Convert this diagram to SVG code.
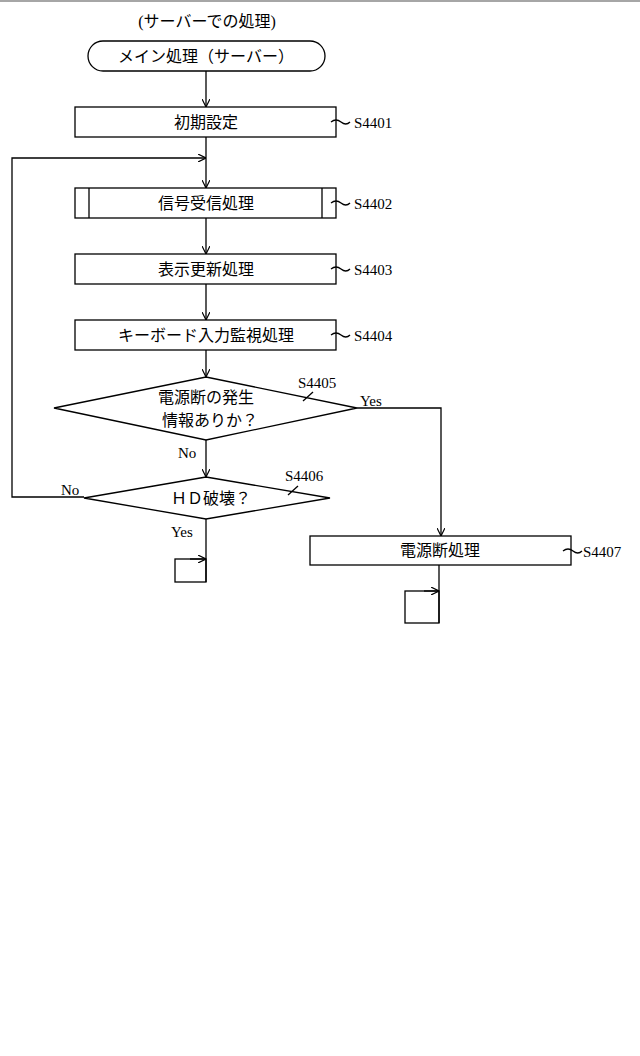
<svg xmlns="http://www.w3.org/2000/svg" width="640" height="1056" viewBox="0 0 640 1056">
<defs>
<marker id="ah" viewBox="0 0 10 10" refX="10" refY="5" markerWidth="8" markerHeight="8" orient="auto" markerUnits="userSpaceOnUse"><path d="M0,0 L10,5 L0,10" fill="none" stroke="#000" stroke-width="1.5"/></marker>
<style>
.s{fill:none;stroke:#000;stroke-width:1.3}
.b{fill:#fff;stroke:#000;stroke-width:1.3}
text{font-family:"Liberation Serif","Noto Sans CJK JP",serif;font-size:16px;fill:#000}
.m{text-anchor:middle}
.l{font-size:15px}
</style>
</defs>
<line x1="0" y1="1" x2="640" y2="1" stroke="#888" stroke-width="1.5"/>
<text class="m" x="207" y="27">(サーバーでの処理)</text>
<g id="connectors">
<line class="s" x1="206" y1="71" x2="206" y2="107" marker-end="url(#ah)"/>
<line class="s" x1="206" y1="137" x2="206" y2="188" marker-end="url(#ah)"/>
<polyline class="s" points="84,497 12,497 12,158 206,158" marker-end="url(#ah)"/>
<line class="s" x1="206" y1="218" x2="206" y2="254" marker-end="url(#ah)"/>
<line class="s" x1="206" y1="284" x2="206" y2="320" marker-end="url(#ah)"/>
<line class="s" x1="206" y1="350" x2="206" y2="377" marker-end="url(#ah)"/>
<line class="s" x1="206" y1="440" x2="206" y2="477" marker-end="url(#ah)"/>
<polyline class="s" points="357,408 441,408 441,536" marker-end="url(#ah)"/>
<line class="s" x1="206" y1="519" x2="206" y2="582"/>
<line class="s" x1="190" y1="559" x2="206" y2="559" marker-end="url(#ah)"/>
<line class="s" x1="439" y1="565" x2="439" y2="623"/>
<line class="s" x1="424" y1="591" x2="439" y2="591" marker-end="url(#ah)"/>
</g>
<g id="start"><rect class="b" x="88" y="41" width="237" height="30" rx="15"/><text class="m" x="206" y="62">メイン処理（サーバー）</text></g>
<g id="S4401"><rect class="b" x="75" y="107" width="261" height="30"/><text class="m" x="206" y="128">初期設定</text>
<path class="s" d="M331,122 q5,-4 10,0 t9,0"/><text class="l" x="354" y="128">S4401</text></g>
<g id="S4402"><rect class="b" x="75" y="188" width="261" height="30"/><line class="s" x1="89" y1="188" x2="89" y2="218"/><line class="s" x1="322" y1="188" x2="322" y2="218"/><text class="m" x="206" y="209">信号受信処理</text>
<path class="s" d="M331,203 q5,-4 10,0 t9,0"/><text class="l" x="354" y="209">S4402</text></g>
<g id="S4403"><rect class="b" x="75" y="254" width="261" height="30"/><text class="m" x="206" y="275">表示更新処理</text>
<path class="s" d="M331,269 q5,-4 10,0 t9,0"/><text class="l" x="354" y="275">S4403</text></g>
<g id="S4404"><rect class="b" x="75" y="320" width="261" height="30"/><text class="m" x="206" y="341">キーボード入力監視処理</text>
<path class="s" d="M331,335 q5,-4 10,0 t9,0"/><text class="l" x="354" y="341">S4404</text></g>
<g id="S4405"><polygon class="b" points="206,377 357,408 206,440 54,408"/><text class="m" x="206" y="403">電源断の発生</text><text class="m" x="210" y="426">情報ありか？</text>
<line class="s" x1="303" y1="401" x2="313" y2="392"/><text class="l" x="298" y="388">S4405</text>
<text class="l" x="360" y="406">Yes</text><text class="l" x="178" y="458">No</text></g>
<g id="S4406"><polygon class="b" points="206,477 330,498 206,519 84,498"/><text class="m" x="211" y="504">ＨＤ破壊？</text>
<line class="s" x1="288" y1="495" x2="298" y2="486"/><text class="l" x="285" y="481">S4406</text>
<text class="l" x="61" y="495">No</text><text class="l" x="171" y="537">Yes</text></g>
<g id="end1"><rect class="s" x="175" y="559" width="31" height="23"/></g>
<g id="S4407"><rect class="b" x="310" y="536" width="261" height="29"/><text class="m" x="440" y="556">電源断処理</text>
<path class="s" d="M563,551 q5,-4 10,0 t9,0"/><text class="l" x="583" y="557">S4407</text></g>
<g id="end2"><rect class="s" x="405" y="591" width="34" height="32"/></g>
</svg>
